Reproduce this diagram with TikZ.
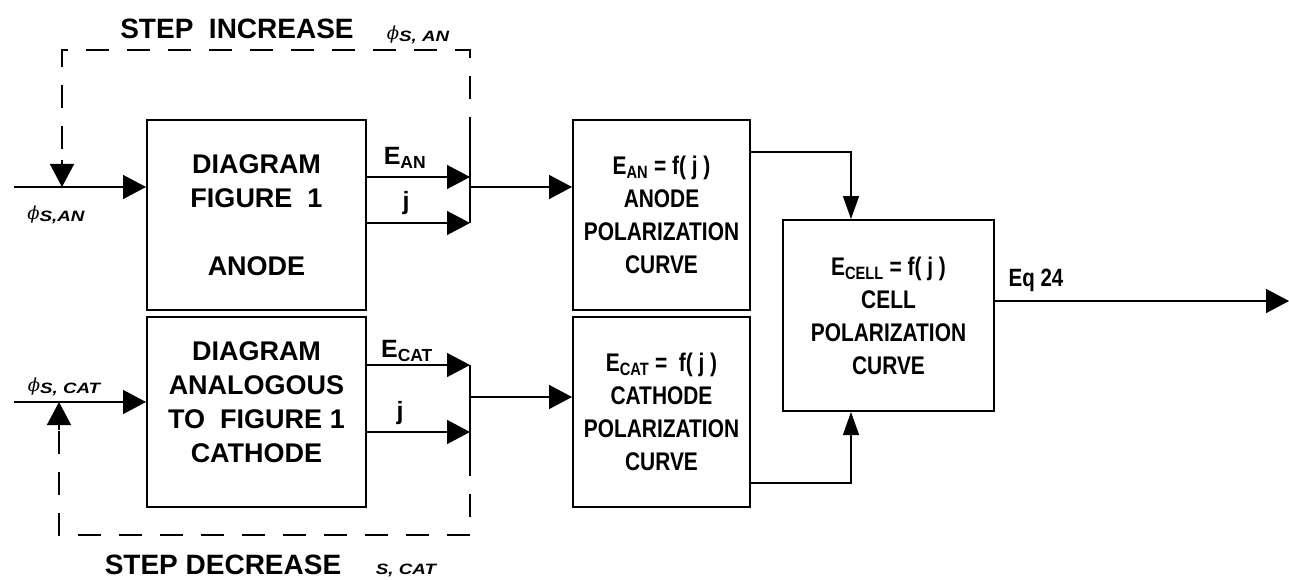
\documentclass[tikz,border=0pt]{standalone}
\usepackage{fontspec}
\setmainfont{Liberation Sans}
\newfontfamily\narrowfont[FakeStretch=0.82]{Liberation Sans}
\newfontfamily\widefont[FakeStretch=1.25]{Liberation Sans}
\newfontfamily\phifont{DejaVu Serif}
\usepackage{tikz}
\usetikzlibrary{arrows.meta,positioning}
\tikzset{
  blk/.style     = {draw, line width=2pt, inner sep=0pt, align=center,
                    font=\fontsize{27}{34}\selectfont\bfseries},
  polblk/.style  = {blk, font=\fontsize{25.5}{33}\selectfont\narrowfont\bfseries},
  sig/.style     = {-{Triangle[length=23pt,width=24pt]}, line width=1.5pt},
  sigin/.style   = {-{Triangle[length=23pt,width=16pt]}, line width=1.5pt},
  wire/.style    = {line width=1.5pt},
  fb/.style      = {line width=1.5pt, dash pattern=on 23pt off 18pt},
  steplab/.style = {font=\fontsize{28}{30}\selectfont\bfseries, inner sep=0pt},
  siglab/.style  = {font=\fontsize{25}{28}\selectfont\bfseries, inner sep=0pt},
  philab/.style  = {font=\fontsize{18}{20}\selectfont, inner sep=0pt},
}
\newcommand{\subit}[1]{{\widefont\fontsize{15}{17}\selectfont\bfseries\itshape #1}}
\newcommand{\phisub}[1]{{\phifont\itshape ϕ}\raisebox{-0.12em}{\subit{#1}}}

\begin{document}
\begin{tikzpicture}[x=1pt, y=-1pt]
\useasboundingbox (0,0) rectangle (1289,580);
\node[blk, minimum width=219pt, minimum height=190pt] (anbox) at (256.5,215)
     {DIAGRAM\\FIGURE\ \ 1\\[34pt]ANODE};
\node[blk, minimum width=219pt, minimum height=190pt, below=5pt of anbox] (catbox)
     {DIAGRAM\\ANALOGOUS\\TO\ \ FIGURE 1\\CATHODE\\[-14pt]};
\node[polblk, minimum width=177pt, minimum height=190pt, right=205pt of anbox] (anpol)
     {E\textsubscript{AN} = f( j )\\ANODE\\POLARIZATION\\CURVE};
\node[polblk, minimum width=177pt, minimum height=190pt, below=5pt of anpol] (catpol)
     {E\textsubscript{CAT} =\ \ f( j )\\CATHODE\\POLARIZATION\\CURVE};
\node[polblk, minimum width=211pt, minimum height=191pt] (cell) at (888.5,315.5)
     {E\textsubscript{CELL} = f( j )\\CELL\\POLARIZATION\\CURVE};

\coordinate (anin)   at (14,187);
\coordinate (antap)  at (62,160);
\coordinate (anE)    at (470,177);
\coordinate (anJ)    at (470,223);
\coordinate (anout)  at (470,187);
\coordinate (anfb)   at (470,140);
\coordinate (catin)  at (14,402);
\coordinate (cattap) at (59,430);
\coordinate (catE)   at (470,365);
\coordinate (catJ)   at (470,432);
\coordinate (catout) at (470,397);
\coordinate (catfb)  at (470,453);
\coordinate (eqout)  at (1289,301);

\draw[sig] (anin) -- (anin -| anbox.west);
\draw[fb] (anfb) |- (62,50) -- (antap);
\draw[sig] (antap) -- (antap |- anin);
\draw[sig] (anbox.east |- anE) -- (anE);
\draw[sig] (anbox.east |- anJ) -- (anJ);
\draw[wire] (anfb) -- (anJ);
\draw[sig] (anout) -- (anout -| anpol.west);

\draw[sig] (catin) -- (catin -| catbox.west);
\draw[fb] (catfb) |- (59,535) -- (cattap);
\draw[sig] (cattap) -- (cattap |- catin);
\draw[sig] (catbox.east |- catE) -- (catE);
\draw[sig] (catbox.east |- catJ) -- (catJ);
\draw[wire] (catE) -- (catfb);
\draw[sig] (catout) -- (catout -| catpol.west);

\draw[sigin] (anpol.east |- 0,152) -| ([xshift=-37.5pt]cell.north);
\draw[sigin] (catpol.east |- 0,483) -| ([xshift=-37.5pt]cell.south);
\draw[sig] (cell.east |- eqout) -- (eqout);

\node[steplab] (inclab) at (237,29) {STEP\ \ INCREASE};
\node[philab] (phitop) at (418,35) {\phisub{S, AN}};
\node[philab] (phian) at (56,215) {\phisub{S,AN}};
\node[philab] (phicat) at (64,387) {\phisub{S, CAT}};
\node[steplab] (declab) at (223,565) {STEP DECREASE};
\node[inner sep=0pt] (subcat) at (406,570) {\subit{S, CAT}};
\node[siglab] (eanlab) at (405,158) {E\textsubscript{AN}};
\node[siglab] (janlab) at (406,203) {j};
\node[siglab] (ecatlab) at (407,351) {E\textsubscript{CAT}};
\node[siglab] (jcatlab) at (400,413) {j};
\node[siglab, font=\fontsize{25}{27}\selectfont\narrowfont\bfseries] (eqlab) at (1036,280) {Eq 24};
\end{tikzpicture}
\end{document}
